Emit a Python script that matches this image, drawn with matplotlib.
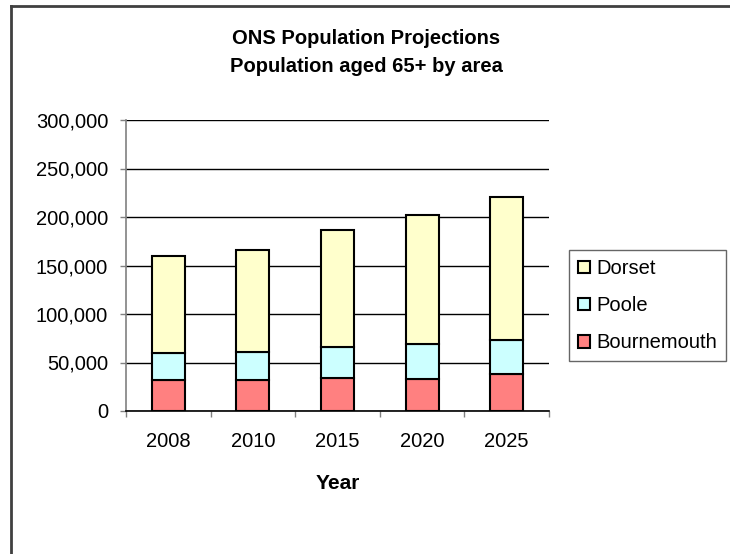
import numpy as np
import matplotlib.pyplot as plt
from matplotlib.ticker import FuncFormatter, FixedLocator

plt.rcParams['font.family'] = ['Liberation Sans', 'DejaVu Sans']

years = ['2008', '2010', '2015', '2020', '2025']
bournemouth = [31600, 31600, 33700, 33500, 37800]
poole = [27900, 29500, 32000, 35900, 35700]
dorset = [100600, 104900, 120600, 133000, 147100]

fig = plt.figure(figsize=(7.3, 5.54), dpi=100)

# outer chart border (cropped: only top and left visible)
fig.add_artist(plt.Line2D([11/730, 11/730], [0, 1 - 6/554], color='#404040', lw=2,
                          transform=fig.transFigure))
fig.add_artist(plt.Line2D([11/730, 1], [1 - 6/554, 1 - 6/554], color='#404040', lw=2,
                          transform=fig.transFigure))

ax = fig.add_axes([126/730, 1 - 411/554, (549 - 126)/730, (411 - 120)/554])

x = np.arange(len(years))
w = 0.39
b1 = np.array(bournemouth)
b2 = b1 + np.array(poole)
ax.bar(x, bournemouth, w, color='#FF8080', edgecolor='black', lw=1.5, label='Bournemouth', zorder=3)
ax.bar(x, poole, w, bottom=b1, color='#CCFFFF', edgecolor='black', lw=1.5, label='Poole', zorder=3)
ax.bar(x, dorset, w, bottom=b2, color='#FFFFCC', edgecolor='black', lw=1.5, label='Dorset', zorder=3)

ax.set_xlim(-0.5, len(years) - 0.5)
ax.set_ylim(0, 300000)
ax.set_yticks(np.arange(0, 300001, 50000))
ax.yaxis.set_major_formatter(FuncFormatter(lambda v, p: f'{int(v):,}'))
ax.set_xticks(x)
ax.set_xticklabels(years)
ax.xaxis.set_minor_locator(FixedLocator(np.arange(-0.5, len(years), 1.0)))
ax.tick_params(axis='x', which='major', length=0, pad=15, labelsize=14.5)
ax.tick_params(axis='x', which='minor', length=4.3, width=1, color='#808080')
ax.tick_params(axis='y', length=4.3, width=1, color='#808080', labelsize=14.5, pad=8.6)

ax.grid(axis='y', color='black', lw=1, zorder=0)
for s in ['top', 'right']:
    ax.spines[s].set_visible(False)
ax.spines['left'].set_color('#808080')
ax.spines['left'].set_linewidth(1.2)
ax.spines['bottom'].set_color('black')
ax.spines['bottom'].set_linewidth(1.2)

ax.set_xlabel('Year', fontsize=15, fontweight='bold', labelpad=17)

fig.text(366/730, 1 - 38/554, 'ONS Population Projections', ha='center', va='center',
         fontsize=14.5, fontweight='bold')
fig.text(366/730, 1 - 66/554, 'Population aged 65+ by area', ha='center', va='center',
         fontsize=14.5, fontweight='bold')

h, l = ax.get_legend_handles_labels()
leg = fig.legend(h[::-1], l[::-1], loc='upper left', bbox_to_anchor=(569/730, 1 - 250/554),
                 frameon=True, fancybox=False, edgecolor='#404040', fontsize=14.5,
                 handlelength=0.6, handleheight=0.6, handletextpad=0.3,
                 labelspacing=0.9, borderpad=0.45, borderaxespad=0)
leg.get_frame().set_linewidth(1)

fig.savefig('out.png', dpi=100)
